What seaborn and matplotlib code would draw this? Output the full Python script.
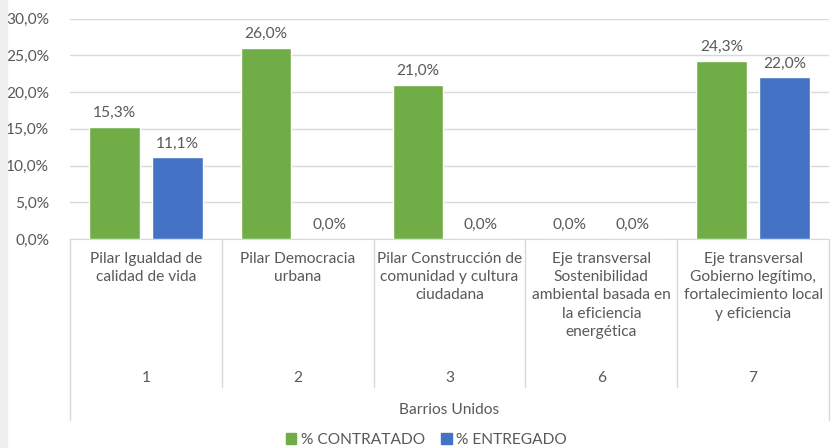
import numpy as np
import pandas as pd
import seaborn as sns
import matplotlib.pyplot as plt
import matplotlib.transforms as mtransforms
from matplotlib.patches import Patch, Rectangle

# === datos ===
pilares = [
    "Pilar Igualdad de\ncalidad de vida",
    "Pilar Democracia\nurbana",
    "Pilar Construcción de\ncomunidad y cultura\nciudadana",
    "Eje transversal\nSostenibilidad\nambiental basada en\nla eficiencia\nenergética",
    "Eje transversal\nGobierno legítimo,\nfortalecimiento local\ny eficiencia",
]
codigos = ["1", "2", "3", "6", "7"]
localidad = "Barrios Unidos"
contratado = [15.3, 26.0, 21.0, 0.0, 24.3]
entregado = [11.1, 0.0, 0.0, 0.0, 22.0]
series = ["% CONTRATADO", "% ENTREGADO"]
colores = {"% CONTRATADO": "#70AD47", "% ENTREGADO": "#4472C4"}

df = pd.DataFrame({
    "pilar": pilares * 2,
    "serie": [series[0]] * len(pilares) + [series[1]] * len(pilares),
    "valor": contratado + entregado,
})

sns.set_style("white")
plt.rcParams["font.family"] = ["Lato", "DejaVu Sans"]
gris = "#595959"
linea = "#D9D9D9"
fs = 11.2

W, H = 836, 448
fig = plt.figure(figsize=(W / 100, H / 100), dpi=100)
fig.patches.append(Rectangle((0, 0), 7 / W, 1, transform=fig.transFigure,
                             color="#F0F0F0", zorder=0))

x0, x1, y_top, y_base = 70, 829, 18.7, 239
ax = fig.add_axes([x0 / W, 1 - y_base / H, (x1 - x0) / W, (y_base - y_top) / H])
alto = y_base - y_top

sns.barplot(data=df, x="pilar", y="valor", hue="serie", order=pilares,
            hue_order=series, palette=colores, width=0.83, gap=0.2,
            saturation=1, legend=False, ax=ax, zorder=3)

for c in ax.containers:
    ax.bar_label(c, labels=[f"{b.get_height():.1f}%".replace(".", ",") for b in c],
                 padding=5, fontsize=fs, color=gris)

ax.set_ylim(0, 30)
ax.set_xlim(-0.5, 4.5)
ax.set_yticks(np.arange(0, 31, 5))
ax.set_yticklabels([f"{v:.1f}%".replace(".", ",") for v in np.arange(0, 31, 5)],
                   fontsize=fs, color=gris)
ax.tick_params(axis="y", length=0, pad=15)
ax.set_xticks([])
ax.set_xlabel("")
ax.set_ylabel("")
ax.yaxis.grid(True, color=linea, lw=1, zorder=0)
for s in ["top", "right", "left"]:
    ax.spines[s].set_visible(False)
ax.spines["bottom"].set_color(linea)

# === eje de categorias multinivel ===
tr = mtransforms.blended_transform_factory(ax.transData, ax.transAxes)

def fy(ypix):
    return (y_base - ypix) / alto

for i in range(len(pilares) + 1):
    xb = i - 0.5
    fin = 420 if i in (0, len(pilares)) else 387
    ax.plot([xb, xb], [0, fy(fin)], color=linea, lw=1, transform=tr, clip_on=False)

for i, (p, c) in enumerate(zip(pilares, codigos)):
    ax.text(i, fy(252), p, transform=tr, ha="center", va="top", fontsize=fs,
            color=gris, linespacing=1.38)
    ax.text(i, fy(378), c, transform=tr, ha="center", va="center", fontsize=fs,
            color=gris)
ax.text(2, fy(410), localidad, transform=tr, ha="center", va="center",
        fontsize=fs, color=gris)

handles = [Patch(color=colores[s], label=s) for s in series]
fig.legend(handles=handles, loc="center", bbox_to_anchor=(0.51, 1 - 440 / H),
           ncol=2, frameon=False, fontsize=fs, labelcolor=gris,
           handlelength=0.7, handleheight=0.7, handletextpad=0.3,
           columnspacing=1.0)

fig.savefig("out.png", dpi=100)
